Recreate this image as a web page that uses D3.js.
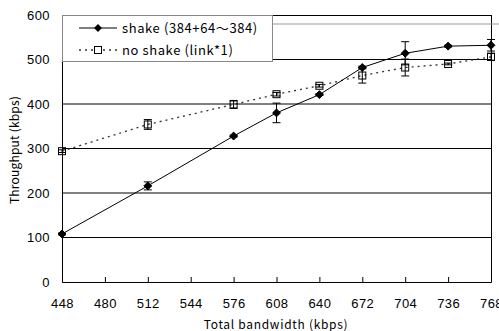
<!DOCTYPE html>
<html>
<head>
<meta charset="utf-8">
<script src="https://cdn.jsdelivr.net/npm/d3@7"></script>
<style>
  body { margin: 0; background: #fff; }
  svg { display: block; font-family: "Noto Sans CJK JP", "Noto Sans", sans-serif; }
</style>
</head>
<body>
<svg id="chart" width="499" height="331"></svg>
<script>
// data
const bandwidth = [448, 512, 576, 608, 640, 672, 704, 736, 768];
const shake = [108, 216, 328, 380, 421, 482, 514, 530, 532];
const shakeErr = [2, 9, 2, 22, 2, 3, 26, 2, 13];
const noShake = [294, 354, 399, 422, 441, 464, 482, 490, 506];
const noShakeErr = [3, 11, 9, 4, 3, 17, 19, 2, 8];
const xTicks = [448, 480, 512, 544, 576, 608, 640, 672, 704, 736, 768];
const yTicks = [0, 100, 200, 300, 400, 500, 600];
const legendLabels = ['shake (384+64～384)', 'no shake (link*1)'];

const margin = { top: 15, right: 8, bottom: 49, left: 62 };
const svg = d3.select('#chart');
const plotW = 491 - margin.left;
const plotH = 282 - margin.top;

const xScale = d3.scaleLinear().domain([448, 768]).range([0, plotW]);
const yScale = d3.scaleLinear().domain([0, 600]).range([plotH, 0]);

const g = svg.append('g').attr('transform', `translate(${margin.left}, ${margin.top})`);

// grid lines
g.selectAll('.grid').data(yTicks.filter(d => d > 0 && d < 600)).enter()
  .append('line')
  .attr('x1', 0).attr('x2', plotW)
  .attr('y1', d => yScale(d)).attr('y2', d => yScale(d))
  .attr('stroke', '#000').attr('stroke-width', 1);

// plot frame (right + top)
g.append('line').attr('x1', plotW + 0.5).attr('x2', plotW + 0.5).attr('y1', 0).attr('y2', plotH).attr('stroke', '#000');
g.append('line').attr('x1', 0).attr('x2', plotW).attr('y1', 0.5).attr('y2', 0.5).attr('stroke', '#000');

// x axis
const xAxis = d3.axisBottom(xScale).tickValues(xTicks).tickSize(-5).tickPadding(17).tickFormat(d3.format('d'));
const gx = g.append('g').attr('transform', `translate(0, ${plotH})`).call(xAxis);
gx.select('.domain').attr('stroke', '#000');
gx.selectAll('.tick line').attr('stroke', '#000');
gx.selectAll('.tick text').attr('font-size', 13).attr('fill', '#000').attr('letter-spacing', 0.4);

// y axis
const yAxis = d3.axisLeft(yScale).tickValues(yTicks).tickSize(0).tickPadding(12);
const gy = g.append('g').call(yAxis);
gy.select('.domain').attr('stroke', '#000');
gy.selectAll('.tick text').attr('font-size', 13).attr('fill', '#000').attr('letter-spacing', 0.4);

// axis titles
svg.append('text').attr('x', 276).attr('y', 329).attr('text-anchor', 'middle')
  .attr('font-size', 12).attr('letter-spacing', 0.7).text('Total bandwidth (kbps)');
svg.append('text').attr('transform', 'translate(19, 150) rotate(-90)').attr('text-anchor', 'middle')
  .attr('font-size', 12).attr('letter-spacing', 0.2).text('Throughput (kbps)');

const rows = bandwidth.map((b, i) => ({ b, s: shake[i], se: shakeErr[i], n: noShake[i], ne: noShakeErr[i] }));

// no shake: dotted line
const lineN = d3.line().x(d => xScale(d.b)).y(d => yScale(d.n));
g.append('path').datum(rows).attr('fill', 'none').attr('stroke', '#333')
  .attr('stroke-width', 1.3).attr('stroke-dasharray', '2,4').attr('d', lineN);

// shake: solid line
const lineS = d3.line().x(d => xScale(d.b)).y(d => yScale(d.s));
g.append('path').datum(rows).attr('fill', 'none').attr('stroke', '#000').attr('stroke-width', 1).attr('d', lineS);

// error bars
function errorBars(key, errKey) {
  const eb = g.append('g');
  rows.forEach(d => {
    const x = xScale(d.b), y1 = yScale(d[key] - d[errKey]), y2 = yScale(d[key] + d[errKey]);
    eb.append('line').attr('x1', x).attr('x2', x).attr('y1', y1).attr('y2', y2).attr('stroke', '#000');
    eb.append('line').attr('x1', x - 4).attr('x2', x + 4).attr('y1', y1).attr('y2', y1).attr('stroke', '#000');
    eb.append('line').attr('x1', x - 4).attr('x2', x + 4).attr('y1', y2).attr('y2', y2).attr('stroke', '#000');
  });
}
errorBars('n', 'ne');
errorBars('s', 'se');

// markers
const sym = d3.symbol();
g.selectAll('.sq').data(rows).enter().append('rect')
  .attr('x', d => xScale(d.b) - 3.5).attr('y', d => yScale(d.n) - 3.5)
  .attr('width', 7).attr('height', 7).attr('fill', 'none').attr('stroke', '#000');
g.selectAll('.dm').data(rows).enter().append('path')
  .attr('transform', d => `translate(${xScale(d.b)}, ${yScale(d.s)})`)
  .attr('d', sym.type(d3.symbolDiamond2).size(40)()).attr('fill', '#000').attr('stroke', '#000');

// legend
const lg = svg.append('g');
lg.append('rect').attr('x', 62.5).attr('y', 15.5).attr('width', 210).attr('height', 46)
  .attr('fill', '#fff').attr('stroke', '#888');
lg.append('line').attr('x1', 272.5).attr('x2', 499).attr('y1', 24).attr('y2', 24).attr('stroke', '#999');
lg.append('line').attr('x1', 79).attr('x2', 117).attr('y1', 28).attr('y2', 28).attr('stroke', '#000');
lg.append('path').attr('transform', 'translate(98, 28)').attr('d', sym.type(d3.symbolDiamond2).size(40)()).attr('fill', '#000');
lg.append('line').attr('x1', 79).attr('x2', 117).attr('y1', 50).attr('y2', 50).attr('stroke', '#333')
  .attr('stroke-width', 1.3).attr('stroke-dasharray', '2,4');
lg.append('rect').attr('x', 94.5).attr('y', 46.5).attr('width', 7).attr('height', 7).attr('fill', '#fff').attr('stroke', '#000');
lg.selectAll('.lt').data(legendLabels).enter().append('text')
  .attr('x', 122).attr('y', (d, i) => 33 + i * 22).attr('font-size', 13).attr('letter-spacing', 0.6).text(d => d);
</script>
</body>
</html>
